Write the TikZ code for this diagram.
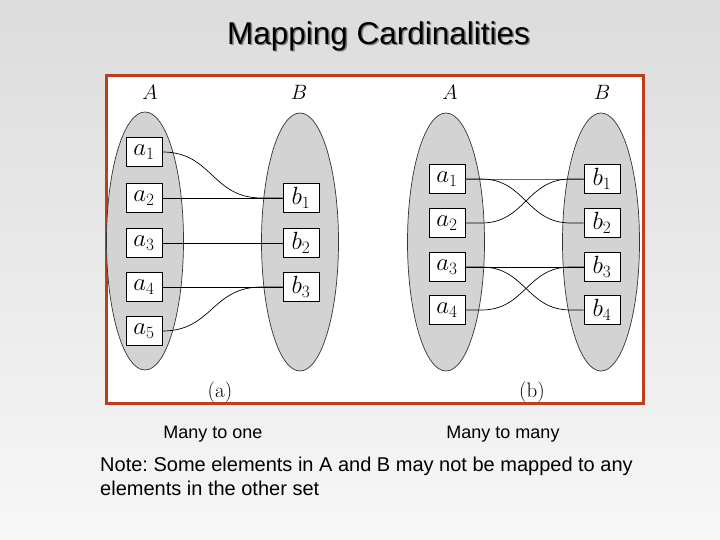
\documentclass[tikz,border=0pt]{standalone}
\usepackage{fontspec}
\newfontfamily\slidefont{Liberation Sans}
\usetikzlibrary{
  shapes.geometric, % For the set ellipses
  calc % For coordinate calculations
}
\definecolor{framered}{RGB}{190,62,28}
\definecolor{setgray}{RGB}{211,211,211}
\frenchspacing

\begin{document}
\begin{tikzpicture}[
    x=1pt, y=-1pt, % pixel units, y pointing down
    setshape/.style={ellipse, draw=black!80, fill=setgray, line width=0.7pt,
      minimum width=77pt, minimum height=258pt, inner sep=0pt},
    elem/.style={draw, fill=white, line width=0.8pt, minimum width=36pt,
      minimum height=29pt, inner sep=0pt, font=\fontsize{24}{24}\selectfont},
    setlabel/.style={inner sep=0pt, font=\fontsize{21}{21}\selectfont},
    link/.style={line width=0.7pt},
    caption/.style={inner sep=0pt, font=\slidefont\fontsize{18}{18}\selectfont},
  ]

  % Hintergrund
  \shade[top color={rgb,255:red,220;green,220;blue,220},
    bottom color={rgb,255:red,247;green,247;blue,247}] (0,0) rectangle (720,540);
  \useasboundingbox (0,0) rectangle (720,540);

  % Titel
  \node[inner sep=0pt, gray, font=\slidefont\fontsize{31.5}{31.5}\selectfont]
    (titleshadow) at (380,37.5) {Mapping Cardinalities};
  \node[inner sep=0pt, font=\slidefont\fontsize{31.5}{31.5}\selectfont]
    (title) at (378.5,36) {Mapping Cardinalities};

  % Rahmen
  \draw[framered, line width=3pt, fill=white] (106,76) rectangle (643,403);

  % Mengen (a)
  \node[setshape] (oA) at (145,241) {};
  \node[setshape] (oB) at (300,242) {};
  \node[setlabel] (oAl) at (150,92) {$A$};
  \node[setlabel] (oBl) at (299,92) {$B$};

  % Mengen (b)
  \node[setshape] (mA) at (446,242) {};
  \node[setshape] (mB) at (601,242) {};
  \node[setlabel] (mAl) at (450,92) {$A$};
  \node[setlabel] (mBl) at (602,92) {$B$};

  % Elemente
  \foreach \i/\y in {1/152, 2/198, 3/243, 4/287, 5/331}
    \node[elem] (oa\i) at (144,\y) {$a_\i$};
  \foreach \i/\y in {1/198, 2/243, 3/287}
    \node[elem] (ob\i) at (301,\y) {$b_\i$};
  \foreach \i/\y in {1/179, 2/223, 3/267, 4/310}
  {
    \node[elem] (ma\i) at (447,\y) {$a_\i$};
    \node[elem] (mb\i) at (602,\y) {$b_\i$};
  }

  % Many to one
  \foreach \i/\j in {2/1, 3/2, 4/3}
    \draw[link] (oa\i.east) -- (ob\j.west);
  \draw[link] (oa1.east) .. controls +(50,0) and +(-50,0) .. ($(ob1.west)+(-21,0)$) -- (ob1.west);
  \draw[link] (oa5.east) .. controls +(50,0) and +(-50,0) .. ($(ob3.west)+(-21,0)$) -- (ob3.west);

  % Many to many
  \draw[link, black!60] (ma1.east) -- (mb1.west);
  \draw[link] (ma3.east) -- (mb3.west);
  \foreach \i/\j in {1/2, 2/1, 3/4, 4/3}
    \draw[link] (ma\i.east) -- ++(16,0)
      .. controls +(44,0) and +(-44,0) .. ($(mb\j.west)+(-13,0)$) -- (mb\j.west);

  % Unterschriften
  \node[inner sep=0pt, font=\fontsize{21}{21}\selectfont] (capa) at (220,392) {(a)};
  \node[inner sep=0pt, font=\fontsize{21}{21}\selectfont] (capb) at (532,392) {(b)};
  \node[caption] (manyone) at (213,434) {Many to one};
  \node[caption] (manymany) at (503,434) {Many to many};
  \node[caption, anchor=north west, align=left, font=\slidefont\fontsize{20}{24}\selectfont]
    (note) at (100,457) {Note: Some elements in A and B may not be mapped to any\\elements in the other set};

\end{tikzpicture}
\end{document}
